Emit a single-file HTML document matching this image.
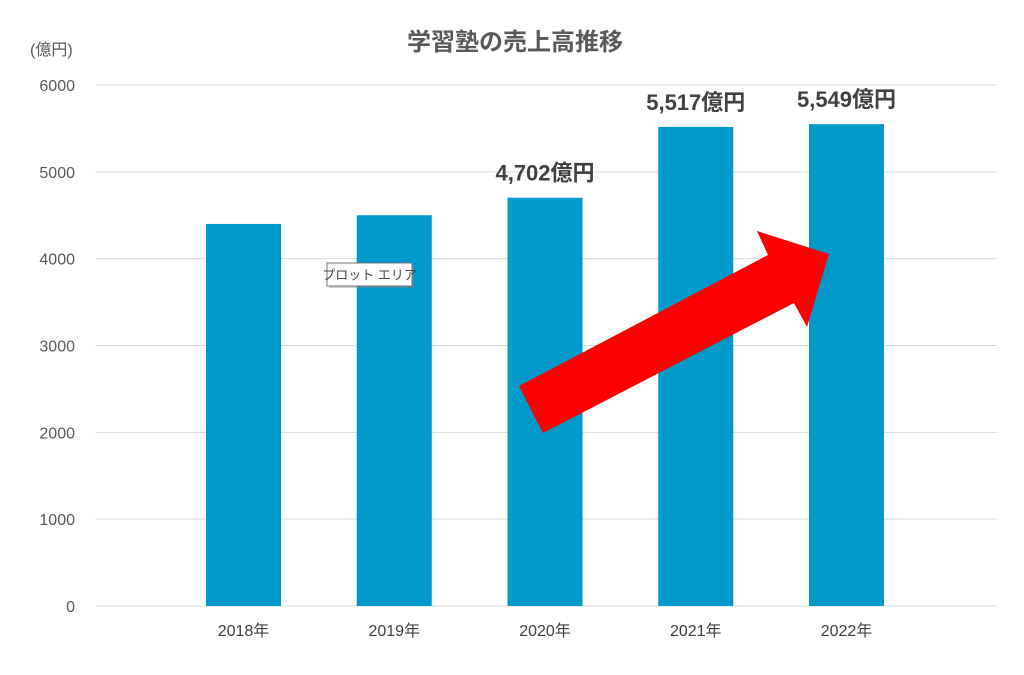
<!DOCTYPE html>
<html><head><meta charset="utf-8"><style>
html,body{margin:0;padding:0;background:#fff;}
svg{display:block;font-family:"Liberation Sans","Noto Sans CJK JP",sans-serif;}
</style></head><body>
<svg id="chart" width="1024" height="675" viewBox="0 0 1024 675">
<text x="515" y="50" text-anchor="middle" font-size="24" font-weight="bold" fill="#595959">学習塾の売上高推移</text>
<text x="30" y="55" font-size="16" fill="#595959">(億円)</text>
<g id="grid"></g><g id="bars"></g><g id="labels"></g>
<polygon points="519,386 768,255 757,231 829,254 807,327 794,303 543,433" fill="#ff0000"/>
<g>
<rect x="329" y="265" width="85" height="23" fill="#888" opacity="0.4"/>
<rect x="327" y="263" width="85" height="23" fill="#fff" stroke="#777" stroke-width="1"/>
<text x="369.5" y="279.5" text-anchor="middle" font-size="13" fill="#444">プロット エリア</text>
</g>
</svg>
<script>
const categories=["2018年","2019年","2020年","2021年","2022年"];
const values=[4400,4500,4702,5517,5549];
const valueLabels=["","","4,702億円","5,517億円","5,549億円"];
const yTicks=[0,1000,2000,3000,4000,5000,6000];
const NS="http://www.w3.org/2000/svg";
const y0=606,y1=85,yMax=6000,xL=95,xR=997;
function y(v){return y0-(v/yMax)*(y0-y1);}
function xc(i){return 243.5+i*150.75;}
const bw=75;
function mk(tag,attrs,parent){const e=document.createElementNS(NS,tag);for(const k in attrs)e.setAttribute(k,attrs[k]);parent.appendChild(e);return e;}
const grid=document.getElementById('grid'),bars=document.getElementById('bars'),labels=document.getElementById('labels');
yTicks.forEach(t=>{
  const l=mk('line',{x1:xL,x2:xR,y1:y(t),y2:y(t),stroke:'#d9d9d9','stroke-width':1},grid);
  
  
  const tx=mk('text',{x:75,y:y(t)+6,'text-anchor':'end','font-size':16,fill:'#595959'},grid);
  tx.textContent=t;
  
  
});
categories.forEach((c,i)=>{
  const r=mk('rect',{x:xc(i)-bw/2,y:y(values[i]),width:bw,height:y0-y(values[i]),fill:'#0099cc'},bars);
  
  
  const t=mk('text',{x:xc(i),y:636,'text-anchor':'middle','font-size':16,fill:'#404040'},labels);
  t.textContent=c;
  
  
  if(valueLabels[i]){
    const v=mk('text',{x:xc(i),y:y(values[i])-17,'text-anchor':'middle','font-size':22,'font-weight':'bold',fill:'#404040'},labels);
    v.textContent=valueLabels[i];
    
    
  }
});
</script>
</body></html>
